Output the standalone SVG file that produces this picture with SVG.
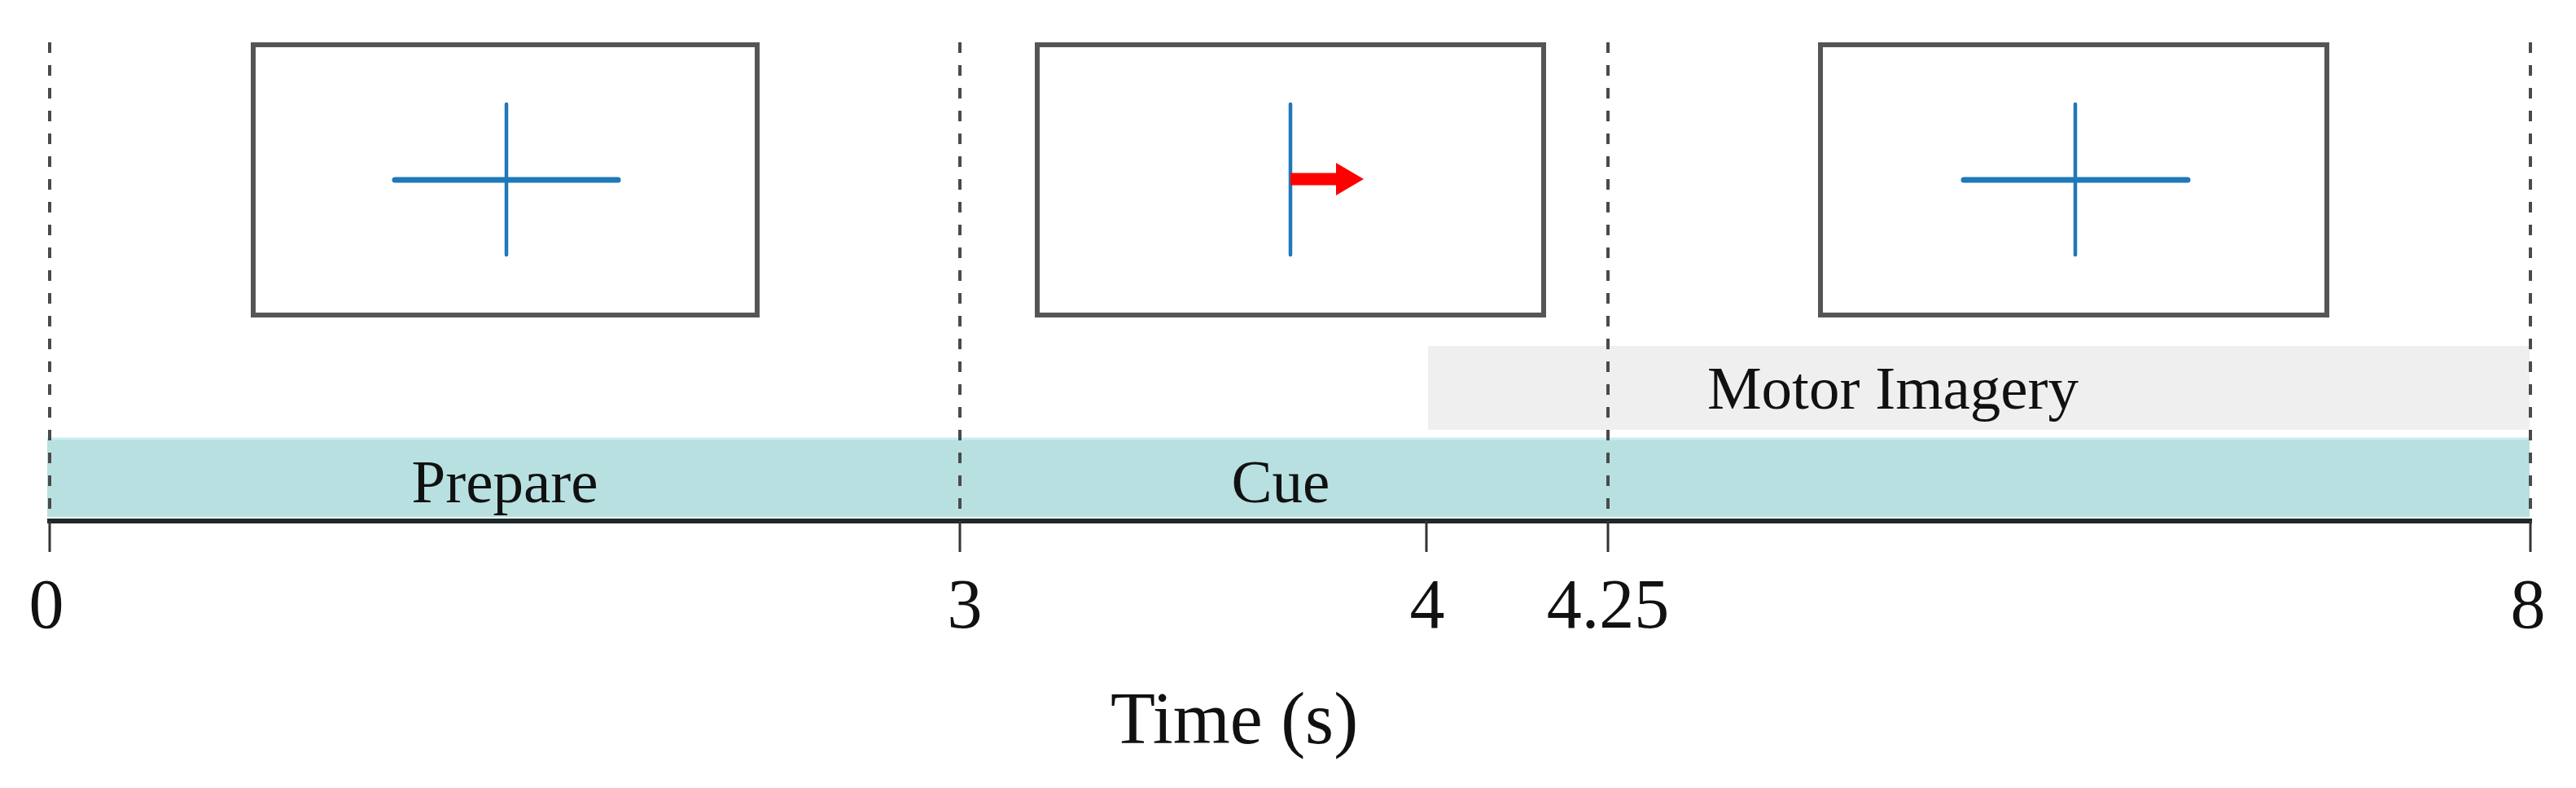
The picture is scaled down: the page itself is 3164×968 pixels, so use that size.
<svg xmlns="http://www.w3.org/2000/svg" width="3164" height="968" viewBox="0 0 3164 968">
  <style>
    .screen { fill: #ffffff; stroke: #555555; stroke-width: 6; }
    .fix { stroke: #1f78b8; stroke-linecap: round; }
    .fixh { stroke-width: 7; }
    .fixv { stroke-width: 4.5; }
    .guide { stroke: #4a4a4a; stroke-width: 4; stroke-dasharray: 13 15; fill: none; }
    .tick { stroke: #333333; stroke-width: 3; }
    .lbl { font-family: "Liberation Serif", "Times New Roman", serif; fill: #111111; text-anchor: middle; }
    .phase { font-size: 75px; }
    .num { font-size: 86px; }
    .axt { font-size: 90px; }
  </style>
  <rect x="0" y="0" width="3164" height="968" fill="#ffffff"/>

  <g id="band-motor-imagery">
    <rect x="1754" y="425" width="1353" height="103" fill="#efefef"/>
    <text class="lbl phase" x="2325" y="502">Motor Imagery</text>
  </g>

  <g id="band-trial">
    <rect x="58" y="538" width="3049" height="97" fill="#b8e0e1"/>
    <line x1="58" y1="539" x2="3107" y2="539" stroke="#c9eef0" stroke-width="3"/>
    <text class="lbl phase" x="620" y="617">Prepare</text>
    <text class="lbl phase" x="1573" y="617">Cue</text>
  </g>

  <g id="connectors">
    <line class="guide" x1="61" y1="52" x2="61" y2="637"/>
    <line class="guide" x1="1179" y1="52" x2="1179" y2="637"/>
    <line class="guide" x1="1975" y1="52" x2="1975" y2="637"/>
    <line class="guide" x1="3108" y1="52" x2="3108" y2="637"/>
  </g>

  <g id="screen-prepare">
    <rect class="screen" x="311" y="55" width="619" height="332"/>
    <line class="fix fixh" x1="485" y1="221" x2="759" y2="221"/>
    <line class="fix fixv" x1="622" y1="128" x2="622" y2="313"/>
  </g>

  <g id="screen-cue">
    <rect class="screen" x="1274" y="55" width="622" height="332"/>
    <line class="fix fixv" x1="1585" y1="128" x2="1585" y2="313"/>
    <polygon points="1585,212.5 1641,212.5 1641,200 1675,220 1641,240 1641,227.5 1585,227.5" fill="#ff0000"/>
  </g>

  <g id="screen-mi">
    <rect class="screen" x="2236" y="55" width="622" height="332"/>
    <line class="fix fixh" x1="2412" y1="221" x2="2687" y2="221"/>
    <line class="fix fixv" x1="2549" y1="128" x2="2549" y2="313"/>
  </g>

  <g id="axis">
    <line x1="58" y1="640" x2="3110" y2="640" stroke="#1e2a2a" stroke-width="6"/>
    <line class="tick" x1="61" y1="640" x2="61" y2="678"/>
    <line class="tick" x1="1179" y1="640" x2="1179" y2="678"/>
    <line class="tick" x1="1752" y1="640" x2="1752" y2="678"/>
    <line class="tick" x1="1975" y1="640" x2="1975" y2="678"/>
    <line class="tick" x1="3108" y1="640" x2="3108" y2="678"/>
    <text class="lbl num" x="57" y="771">0</text>
    <text class="lbl num" x="1185" y="771">3</text>
    <text class="lbl num" x="1753" y="771">4</text>
    <text class="lbl num" x="1975" y="771">4.25</text>
    <text class="lbl num" x="3105" y="771">8</text>
    <text class="lbl axt" x="1516" y="913">Time (s)</text>
  </g>
</svg>
